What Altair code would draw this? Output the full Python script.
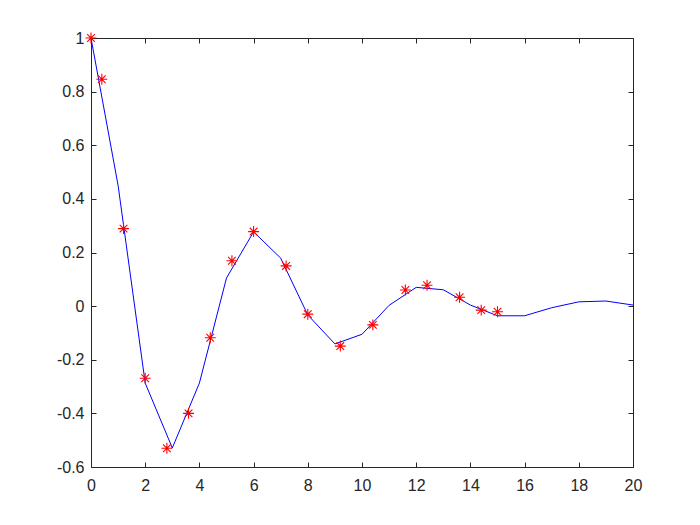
import altair as alt
import pandas as pd

# blue line, sampled at integer x
line_x = list(range(0, 21))
line_y = [1.0, 0.45, -0.287, -0.529, -0.287, 0.105, 0.277, 0.179, -0.033, -0.141,
          -0.105, 0.003, 0.070, 0.061, 0.004, -0.036, -0.036, -0.006, 0.016, 0.019, 0.004]

# red asterisk samples
pt_x = [0, 0.4, 1.2, 2.0, 2.8, 3.6, 4.4, 5.2, 6.0, 7.2, 8.0, 9.2, 10.4, 11.6, 12.4, 13.6, 14.4, 15.0]
pt_y = [1.0, 0.846, 0.289, -0.269, -0.530, -0.400, -0.118, 0.169, 0.278, 0.150,
        -0.030, -0.149, -0.070, 0.060, 0.078, 0.033, -0.015, -0.021]

x_ticks = [0, 2, 4, 6, 8, 10, 12, 14, 16, 18, 20]
y_ticks = [-0.6, -0.4, -0.2, 0, 0.2, 0.4, 0.6, 0.8, 1]

line_df = pd.DataFrame({"x": line_x, "y": line_y})
pt_df = pd.DataFrame({"x": pt_x, "y": pt_y})

FONT = "Liberation Sans"
AX = "#262626"
FS = 16

xs = alt.Scale(domain=[0, 20], nice=False, zero=False)
ys = alt.Scale(domain=[-0.6, 1], nice=False, zero=False)

def ax(orient, values, labels=True, pad=8):
    kw = dict(
        orient=orient, values=values, title=None, grid=False, domain=False,
        ticks=True, tickSize=5, offset=-5, tickColor=AX, tickWidth=1,
        labels=labels, labelFont=FONT, labelFontSize=FS, labelColor=AX,
        labelPadding=pad, labelFlush=False, labelOverlap=False,
        labelExpr="'' + datum.value",
    )
    return alt.Axis(**kw)

line = alt.Chart(line_df).mark_line(color="#0000ff", strokeWidth=1).encode(
    x=alt.X("x:Q", scale=xs, axis=ax("bottom", x_ticks, pad=10)),
    y=alt.Y("y:Q", scale=ys, axis=ax("left", y_ticks, pad=7)),
)

star = "M-1,0L1,0M0,-1L0,1M-0.7,-0.7L0.7,0.7M-0.7,0.7L0.7,-0.7"
pts = alt.Chart(pt_df).mark_point(
    shape=star, size=120, color="#ff0000", filled=False, strokeWidth=1.1, opacity=1
).encode(
    x=alt.X("x:Q", scale=xs, axis=ax("top", x_ticks, labels=False)),
    y=alt.Y("y:Q", scale=ys, axis=ax("right", y_ticks, labels=False)),
)

chart = alt.layer(line, pts).resolve_axis(x="independent", y="independent").properties(
    width=542, height=429,
    autosize=alt.AutoSizeParams(type="none"),
    padding={"left": 83, "top": 30, "right": 59, "bottom": 50},
    background="white",
).configure_view(stroke=AX, strokeWidth=1)

chart.save("out.html", embed_options={"renderer": "svg", "actions": False})
